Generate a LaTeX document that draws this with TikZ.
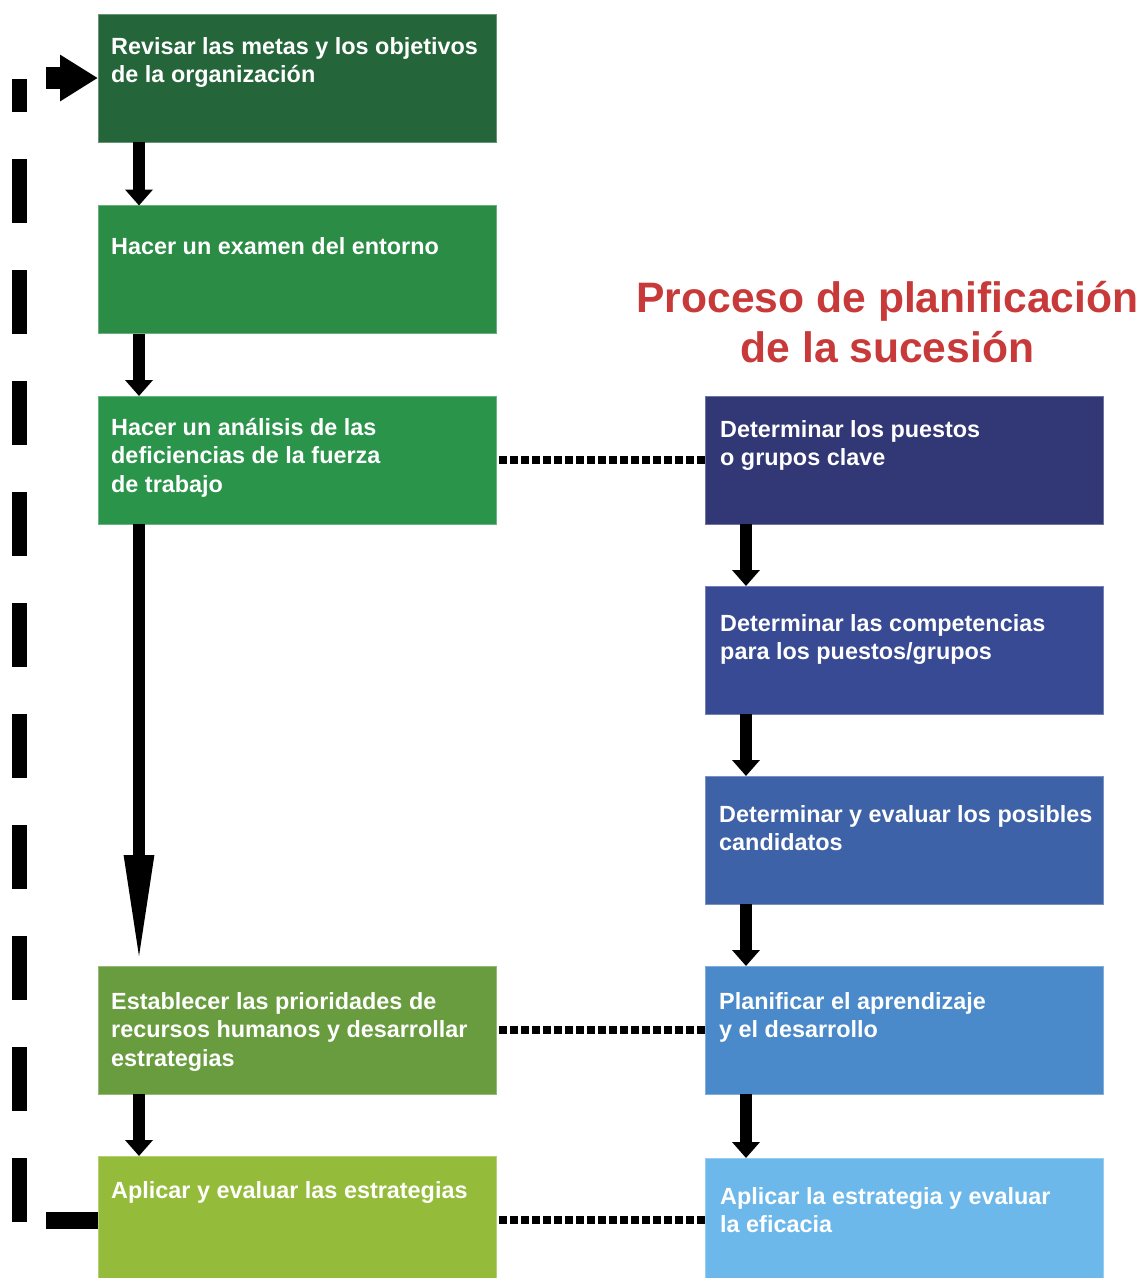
\documentclass[tikz,border=0pt]{standalone}
\usepackage{fontspec}
\setmainfont{Liberation Sans}
\usetikzlibrary{arrows.meta,calc}
\definecolor{gA}{HTML}{246639}
\definecolor{gB}{HTML}{2A8C45}
\definecolor{gC}{HTML}{2A944A}
\definecolor{gD}{HTML}{689C3E}
\definecolor{gE}{HTML}{95BB3B}
\definecolor{bA}{HTML}{323775}
\definecolor{bB}{HTML}{384A93}
\definecolor{bC}{HTML}{3E62A8}
\definecolor{bD}{HTML}{4A8ACA}
\definecolor{bE}{HTML}{6DB8EA}
\definecolor{titlered}{HTML}{C83A3A}
\tikzset{
  boxnode/.style={fill=#1, draw=#1!70!white, line width=1pt, minimum width=398pt, minimum height=128pt, inner sep=0pt, outer sep=0pt, anchor=north west},
  txt/.style={text=white, inner sep=0pt, anchor=base west, font=\fontsize{23.4}{28.5}\selectfont\bfseries},
  varrow/.style={line width=12pt, -{Triangle[width=27pt,length=16pt]}},
  bigarrow/.style={line width=12pt, -{Triangle[width=27pt,length=111pt]}},
  dotline/.style={line width=7.5pt, dash pattern=on 8pt off 3pt},
  fbdash/.style={line width=15pt, dash pattern=on 64pt off 47pt},
}
\newcommand{\lines}[1]{\begin{tabular}[t]{@{}l@{}}#1\end{tabular}}
\begin{document}
\begin{tikzpicture}[x=1pt,y=-1pt]
\useasboundingbox[fill=white] (0,0) rectangle (1143,1278);
% left column
\node[boxnode=gA] (b1) at (98,14) {};
\node[boxnode=gB] (b2) at (98,205.5) {};
\node[boxnode=gC] (b3) at (98,396) {};
\node[boxnode=gD] (b4) at (98,966) {};
\node[boxnode=gE] (b5) at (98,1156) {};
% right column
\node[boxnode=bA] (r1) at (705,396) {};
\node[boxnode=bB] (r2) at (705,586) {};
\node[boxnode=bC] (r3) at (705,776) {};
\node[boxnode=bD] (r4) at (705,966) {};
\node[boxnode=bE] (r5) at (705,1158) {};
% texts
\node[txt] (t1) at ($(b1.north west)+(13,40)$) {\lines{Revisar las metas y los objetivos\\de la organización}};
\node[txt] (t2) at ($(b2.north west)+(13,49)$) {\lines{Hacer un examen del entorno}};
\node[txt] (t3) at ($(b3.north west)+(13,39)$) {\lines{Hacer un análisis de las\\deficiencias de la fuerza\\de trabajo}};
\node[txt] (t4) at ($(b4.north west)+(13,43)$) {\lines{Establecer las prioridades de\\recursos humanos y desarrollar\\estrategias}};
\node[txt] (t5) at ($(b5.north west)+(13,42)$) {\lines{Aplicar y evaluar las estrategias}};
\node[txt] (s1) at ($(r1.north west)+(15,41)$) {\lines{Determinar los puestos\\o grupos clave}};
\node[txt] (s2) at ($(r2.north west)+(15,45)$) {\lines{Determinar las competencias\\para los puestos/grupos}};
\node[txt] (s3) at ($(r3.north west)+(14,46)$) {\lines{Determinar y evaluar los posibles\\candidatos}};
\node[txt] (s4) at ($(r4.north west)+(14,43)$) {\lines{Planificar el aprendizaje\\y el desarrollo}};
\node[txt] (s5) at ($(r5.north west)+(15,46)$) {\lines{Aplicar la estrategia y evaluar\\la eficacia}};
% title
\node[inner sep=0pt, anchor=base, text=titlered, font=\fontsize{42.6}{50}\selectfont\bfseries] (title) at (887.5,312)
  {\begin{tabular}[t]{@{}c@{}}Proceso de planificación\\de la sucesión\end{tabular}};
% vertical arrows
\draw[varrow] ($(b1.south west)+(41,0)$) -- ($(b2.north west)+(41,0)$);
\draw[varrow] ($(b2.south west)+(41,0)$) -- ($(b3.north west)+(41,0)$);
\draw[bigarrow] ($(b3.south west)+(41,0)$) -- ($(b4.north west)+(41,0)$);
\draw[varrow] ($(b4.south west)+(41,0)$) -- ($(b5.north west)+(41,0)$);
\draw[varrow] ($(r1.south west)+(41,0)$) -- ($(r2.north west)+(41,0)$);
\draw[varrow] ($(r2.south west)+(41,0)$) -- ($(r3.north west)+(41,0)$);
\draw[varrow] ($(r3.south west)+(41,0)$) -- ($(r4.north west)+(41,0)$);
\draw[varrow] ($(r4.south west)+(41,0)$) -- ($(r5.north west)+(41,0)$);
% dotted links
\draw[dotline] ($(b3.east)+(3,0)$) -- (r1.west);
\draw[dotline] ($(b4.east)+(3,0)$) -- (r4.west |- b4.east);
\draw[dotline] ($(b5.east)+(3,0)$) -- (r5.west |- b5.east);
% feedback loop
\coordinate (outE) at (46,1220);
\coordinate (fbB) at (19.5,1222);
\coordinate (fbT) at (19.5,79);
\coordinate (inS) at (46,78);
\draw[line width=17pt] (b5.west) -- (outE);
\draw[fbdash] (fbB) -- (fbT);
\draw[line width=22pt, -{Triangle[width=44pt,length=38pt]}] (inS) -- (b1.west);
\end{tikzpicture}
\end{document}
